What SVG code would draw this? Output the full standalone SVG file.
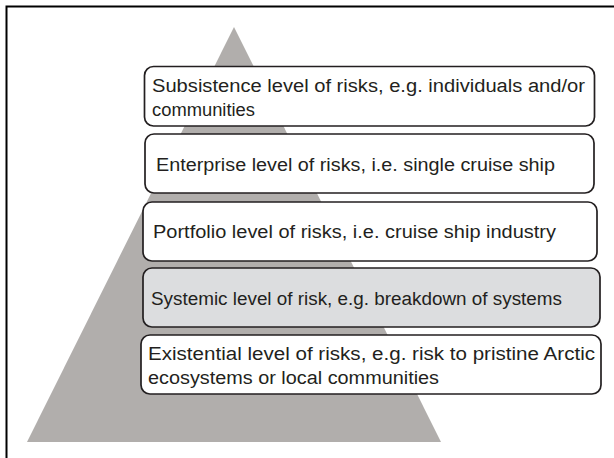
<svg xmlns="http://www.w3.org/2000/svg" width="614" height="458" viewBox="0 0 614 458">
<style>
.box{fill:#ffffff;stroke:#231f20;stroke-width:1.7}
.box.shade{fill:#dcdddf}
.t{font-family:"Liberation Sans",Arial,sans-serif;font-size:18px;fill:#231f20}
</style>
<rect x="0" y="0" width="614" height="458" fill="#ffffff"/>
<path d="M6.5,458 V6.5 H614" fill="none" stroke="#000000" stroke-width="2"/>
<polygon id="pyramid" points="234,27 27,442 441,442" fill="#b1aeac"/>
<g id="connectors"></g>
<g id="n1">
<rect class="box" x="144.5" y="66.5" width="450" height="59.5" rx="9"/>
<text class="t" x="152" y="92" textLength="433" lengthAdjust="spacingAndGlyphs">Subsistence level of risks, e.g. individuals and/or</text>
<text class="t" x="152" y="116" textLength="103" lengthAdjust="spacingAndGlyphs">communities</text>
</g>
<g id="n2">
<rect class="box" x="145" y="134" width="449" height="59" rx="9"/>
<text class="t" x="156" y="171" textLength="399" lengthAdjust="spacingAndGlyphs">Enterprise level of risks, i.e. single cruise ship</text>
</g>
<g id="n3">
<rect class="box" x="143" y="202" width="454" height="59" rx="9"/>
<text class="t" x="153" y="238" textLength="403" lengthAdjust="spacingAndGlyphs">Portfolio level of risks, i.e. cruise ship industry</text>
</g>
<g id="n4">
<rect class="box shade" x="143" y="268" width="457" height="59" rx="9"/>
<text class="t" x="151" y="305" textLength="411" lengthAdjust="spacingAndGlyphs">Systemic level of risk, e.g. breakdown of systems</text>
</g>
<g id="n5">
<rect class="box" x="141" y="335" width="460" height="59" rx="9"/>
<text class="t" x="148" y="360" textLength="447" lengthAdjust="spacingAndGlyphs">Existential level of risks, e.g. risk to pristine Arctic</text>
<text class="t" x="148" y="384" textLength="291" lengthAdjust="spacingAndGlyphs">ecosystems or local communities</text>
</g>
</svg>
